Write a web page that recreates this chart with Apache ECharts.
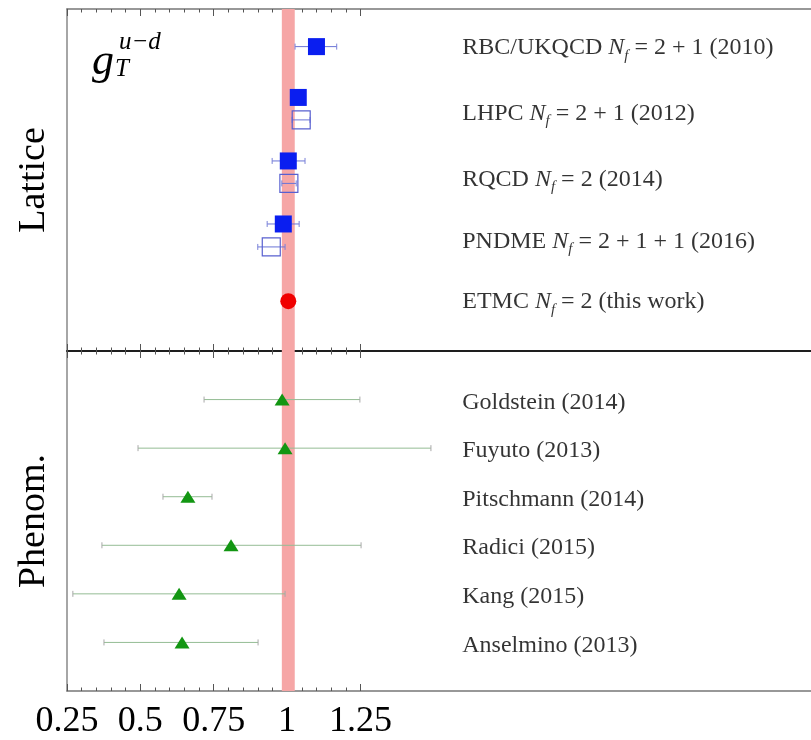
<!DOCTYPE html>
<html>
<head>
<meta charset="utf-8">
<script src="https://cdn.jsdelivr.net/npm/echarts@6/dist/echarts.min.js"></script>
<style>
html, body { margin: 0; padding: 0; background: #fff; }
#main { width: 811px; height: 740px; }
</style>
</head>
<body>
<div id="main"></div>
<script>
var SERIF = "'Liberation Serif', 'Times New Roman', serif";

// x axis ticks
var majorTicks = [0.25, 0.5, 0.75, 1, 1.25];
var minorTicks = [0.3, 0.35, 0.4, 0.45, 0.55, 0.6, 0.65, 0.7, 0.8, 0.85, 0.9, 0.95, 1.05, 1.1, 1.15, 1.2];
var xMin = 0.25, xMax = 2.785;
var labelX = 1.595;

// ETMC (this work) -> also the pink band
var etmcValue = 1.004, etmcErr = 0.022, etmcRow = 5.98;

// lattice results, filled squares
var latFilledValue = [1.100, 1.038, 1.004, 0.987];
var latFilledLow   = [1.027, 1.018, 0.949, 0.932];
var latFilledHigh  = [1.169, 1.058, 1.061, 1.041];
var latFilledRow   = [0.77, 1.81, 3.11, 4.40];

// lattice results, open squares
var latOpenValue = [1.048, 1.006, 0.946];
var latOpenLow   = [1.017, 0.982, 0.900];
var latOpenHigh  = [1.078, 1.031, 0.993];
var latOpenRow   = [2.27, 3.57, 4.87];

var latNames = ['RBC/UKQCD', 'LHPC', 'RQCD', 'PNDME', 'ETMC'];
var latNf    = ['2 + 1 (2010)', '2 + 1 (2012)', '2 (2014)', '2 + 1 + 1 (2016)', '2 (this work)'];
var latLabelRow = [0.80, 2.15, 3.50, 4.77, 6.00];

// phenomenology
var phenNames = ['Goldstein (2014)', 'Fuyuto (2013)', 'Pitschmann (2014)', 'Radici (2015)', 'Kang (2015)', 'Anselmino (2013)'];
var phenValue = [0.983, 0.993, 0.662, 0.809, 0.632, 0.642];
var phenLow   = [0.717, 0.492, 0.577, 0.369, 0.270, 0.376];
var phenHigh  = [1.248, 1.490, 0.744, 1.252, 0.993, 0.901];
var phenRow   = [1, 2, 3, 4, 5, 6];

function zip3(a, b, c) {
    return a.map(function (v, i) { return [v, b[i], c[i]]; });
}
function zip2(a, b) {
    return a.map(function (v, i) { return [v, b[i]]; });
}

function errorBar(color, capColor) {
    return function (params, api) {
        var y = api.value(2);
        var a = api.coord([api.value(0), y]);
        var b = api.coord([api.value(1), y]);
        var h = 3;
        return {
            type: 'group',
            children: [
                {type: 'line', shape: {x1: a[0], y1: a[1], x2: b[0], y2: b[1]}, style: {stroke: color, lineWidth: 1}},
                {type: 'line', shape: {x1: a[0], y1: a[1] - h, x2: a[0], y2: a[1] + h}, style: {stroke: capColor, lineWidth: 1}},
                {type: 'line', shape: {x1: b[0], y1: b[1] - h, x2: b[0], y2: b[1] + h}, style: {stroke: capColor, lineWidth: 1}}
            ]
        };
    };
}

function xAxisOf(grid, pos, ticks, len, line, lineColor, labels) {
    return {
        type: 'value', gridIndex: grid, position: pos, min: xMin, max: xMax,
        splitLine: {show: false},
        axisLine: {show: line, onZero: false, lineStyle: {color: lineColor, width: 1.5}},
        axisTick: {show: true, inside: true, length: len, customValues: ticks, lineStyle: {color: '#555', width: 1}},
        axisLabel: {
            show: labels, customValues: majorTicks, margin: 13,
            fontFamily: SERIF, fontSize: 36, color: '#000'
        }
    };
}

function yAxisOf(grid, name) {
    return {
        type: 'value', gridIndex: grid, min: 0, max: 7, inverse: true,
        name: name, nameLocation: 'middle', nameRotate: 90, nameGap: 14,
        nameTextStyle: {fontFamily: SERIF, fontSize: 38, color: '#000'},
        splitLine: {show: false},
        axisLine: {show: true, onZero: false, lineStyle: {color: '#888', width: 1.5}},
        axisTick: {show: false},
        axisLabel: {show: false}
    };
}

var richText = {
    t: {fontFamily: SERIF, fontSize: 24, color: '#000', lineHeight: 30},
    i: {fontFamily: SERIF, fontSize: 24, fontStyle: 'italic', color: '#000', lineHeight: 30},
    s: {fontFamily: SERIF, fontSize: 15, fontStyle: 'italic', color: '#000', lineHeight: 15, verticalAlign: 'bottom'}
};

var latLabelData = latNames.map(function (n, i) {
    return {value: [labelX, latLabelRow[i]], text: '{t|' + n + ' }{i|N}{s|f}{t| = ' + latNf[i] + '}'};
});
var phenLabelData = phenNames.map(function (n, i) {
    return {value: [labelX, phenRow[i] + 0.06], text: '{t|' + n + '}'};
});

function labelSeries(x, y, data) {
    return {
        type: 'scatter', xAxisIndex: x, yAxisIndex: y, silent: true, z: 5,
        symbolSize: 1, itemStyle: {color: 'rgba(0,0,0,0)'},
        data: data,
        label: {
            show: true, position: 'right', distance: 0,
            formatter: function (p) { return p.data.text; },
            rich: richText
        }
    };
}

function bandSeries(x, y) {
    return {
        type: 'scatter', xAxisIndex: x, yAxisIndex: y, silent: true, z: 1, data: [],
        markArea: {
            silent: true,
            itemStyle: {color: '#f6a6a6', opacity: 1},
            data: [[{xAxis: etmcValue - etmcErr}, {xAxis: etmcValue + etmcErr}]]
        }
    };
}

var chart = echarts.init(document.getElementById('main'));
chart.setOption({
    animation: false,
    backgroundColor: '#fff',
    grid: [
        {left: 67, top: 9, right: 0, height: 342},
        {left: 67, top: 351, right: 0, height: 341}
    ],
    xAxis: [
        xAxisOf(0, 'top', majorTicks, 7, true, '#777', false),
        xAxisOf(0, 'top', minorTicks, 3.5, false, '#777', false),
        xAxisOf(0, 'bottom', majorTicks, 7, true, '#111', false),
        xAxisOf(0, 'bottom', minorTicks, 3.5, false, '#111', false),
        xAxisOf(1, 'top', majorTicks, 7, true, '#111', false),
        xAxisOf(1, 'top', minorTicks, 3.5, false, '#111', false),
        xAxisOf(1, 'bottom', majorTicks, 7, true, '#777', true),
        xAxisOf(1, 'bottom', minorTicks, 3.5, false, '#777', false)
    ],
    yAxis: [yAxisOf(0, 'Lattice'), yAxisOf(1, 'Phenom.')],
    graphic: [
        {type: 'text', left: 92, top: 40, style: {text: 'g', font: 'italic 44px ' + SERIF, fill: '#000'}},
        {type: 'text', left: 119, top: 30, style: {text: 'u\u2212d', font: 'italic 25px ' + SERIF, fill: '#000'}},
        {type: 'text', left: 115, top: 57, style: {text: 'T', font: 'italic 25px ' + SERIF, fill: '#000'}}
    ],
    series: [
        bandSeries(2, 0),
        bandSeries(6, 1),
        {
            type: 'custom', xAxisIndex: 2, yAxisIndex: 0, silent: true, z: 2,
            renderItem: errorBar('#6a74d6', '#7a82d8'),
            encode: {x: [0, 1], y: 2},
            data: zip3(latFilledLow, latFilledHigh, latFilledRow)
        },
        {
            type: 'custom', xAxisIndex: 2, yAxisIndex: 0, silent: true, z: 2,
            renderItem: errorBar('#6a74d6', '#7a82d8'),
            encode: {x: [0, 1], y: 2},
            data: zip3(latOpenLow, latOpenHigh, latOpenRow)
        },
        {
            type: 'scatter', xAxisIndex: 2, yAxisIndex: 0, silent: true, z: 3,
            symbol: 'rect', symbolSize: 17,
            itemStyle: {color: '#0a1ef0', opacity: 1},
            data: zip2(latFilledValue, latFilledRow)
        },
        {
            type: 'scatter', xAxisIndex: 2, yAxisIndex: 0, silent: true, z: 3,
            symbol: 'rect', symbolSize: 18,
            itemStyle: {color: 'rgba(0,0,0,0)', borderColor: '#5860d0', borderWidth: 1.2, opacity: 1},
            data: zip2(latOpenValue, latOpenRow)
        },
        {
            type: 'scatter', xAxisIndex: 2, yAxisIndex: 0, silent: true, z: 3,
            symbol: 'circle', symbolSize: 16,
            itemStyle: {color: '#f00000', opacity: 1},
            data: [[etmcValue, etmcRow]]
        },
        {
            type: 'custom', xAxisIndex: 6, yAxisIndex: 1, silent: true, z: 2,
            renderItem: errorBar('#94bc94', '#a8a8a8'),
            encode: {x: [0, 1], y: 2},
            data: zip3(phenLow, phenHigh, phenRow)
        },
        {
            type: 'scatter', xAxisIndex: 6, yAxisIndex: 1, silent: true, z: 3,
            symbol: 'triangle', symbolSize: [15, 12],
            itemStyle: {color: '#129612', opacity: 1},
            data: zip2(phenValue, phenRow)
        },
        labelSeries(2, 0, latLabelData),
        labelSeries(6, 1, phenLabelData)
    ]
});
</script>
</body>
</html>
